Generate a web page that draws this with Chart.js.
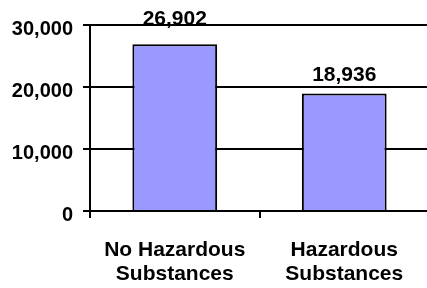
<!DOCTYPE html>
<html>
<head>
<meta charset="utf-8">
<script src="https://cdn.jsdelivr.net/npm/chart.js@4/dist/chart.umd.min.js"></script>
<style>
  html, body { margin: 0; padding: 0; background: #fff; overflow: hidden; }
  #wrap { width: 429px; height: 288px; }
</style>
</head>
<body>
<div id="wrap"><canvas id="c" width="429" height="288"></canvas></div>
<script>
// data
var categories = [['No Hazardous', 'Substances'], ['Hazardous', 'Substances']];
var counts = [26902, 18936];
var yTicks = [0, 10000, 20000, 30000];

var FONT = "Arial, 'Liberation Sans', sans-serif";

function fmt(v) { return Number(v).toLocaleString('en-US'); }

// value labels above the bars (pushed above the top gridline if they would cross it)
var valueLabels = {
  id: 'valueLabels',
  afterDatasetsDraw: function(chart) {
    var ctx = chart.ctx;
    var meta = chart.getDatasetMeta(0);
    var top = chart.chartArea.top;
    ctx.save();
    ctx.font = 'bold 21px ' + FONT;
    ctx.fillStyle = '#000';
    ctx.textAlign = 'center';
    ctx.textBaseline = 'alphabetic';
    meta.data.forEach(function(bar, i) {
      var y = bar.y - 13;
      if (y - 15 < top) y = Math.min(y, top);
      ctx.fillText(fmt(counts[i]), bar.x, y);
    });
    ctx.restore();
  }
};

new Chart(document.getElementById('c'), {
  type: 'bar',
  data: {
    labels: categories,
    datasets: [{
      data: counts,
      backgroundColor: '#9999FF',
      borderColor: '#000',
      borderWidth: 2,
      barPercentage: 0.5,
      categoryPercentage: 1
    }]
  },
  options: {
    responsive: false,
    devicePixelRatio: 1,
    animation: false,
    layout: { padding: { top: 25, left: 12, right: 0, bottom: 0 } },
    plugins: { legend: { display: false }, tooltip: { enabled: false } },
    scales: {
      x: {
        afterFit: function(scale) { scale.height = 77; },
        grid: { drawOnChartArea: false, drawTicks: true, tickLength: 7, color: '#000', lineWidth: 2, offset: true },
        border: { display: true, color: '#000', width: 2 },
        ticks: {
          color: '#000',
          font: { family: FONT, size: 21, weight: 'bold', lineHeight: 1.15 },
          padding: 20,
          maxRotation: 0,
          autoSkip: false
        }
      },
      y: {
        min: 0,
        max: 30000,
        afterBuildTicks: function(scale) {
          scale.ticks = yTicks.map(function(v) { return { value: v }; });
        },
        afterFit: function(scale) { scale.width = 78; },
        grid: { color: '#000', lineWidth: 2, tickLength: 7 },
        border: { display: true, color: '#000', width: 2 },
        ticks: {
          color: '#000',
          font: { family: FONT, size: 20, weight: 'bold' },
          padding: 10,
          labelOffset: 4,
          callback: function(v) { return fmt(v); }
        }
      }
    }
  },
  plugins: [valueLabels]
});
</script>
</body>
</html>
